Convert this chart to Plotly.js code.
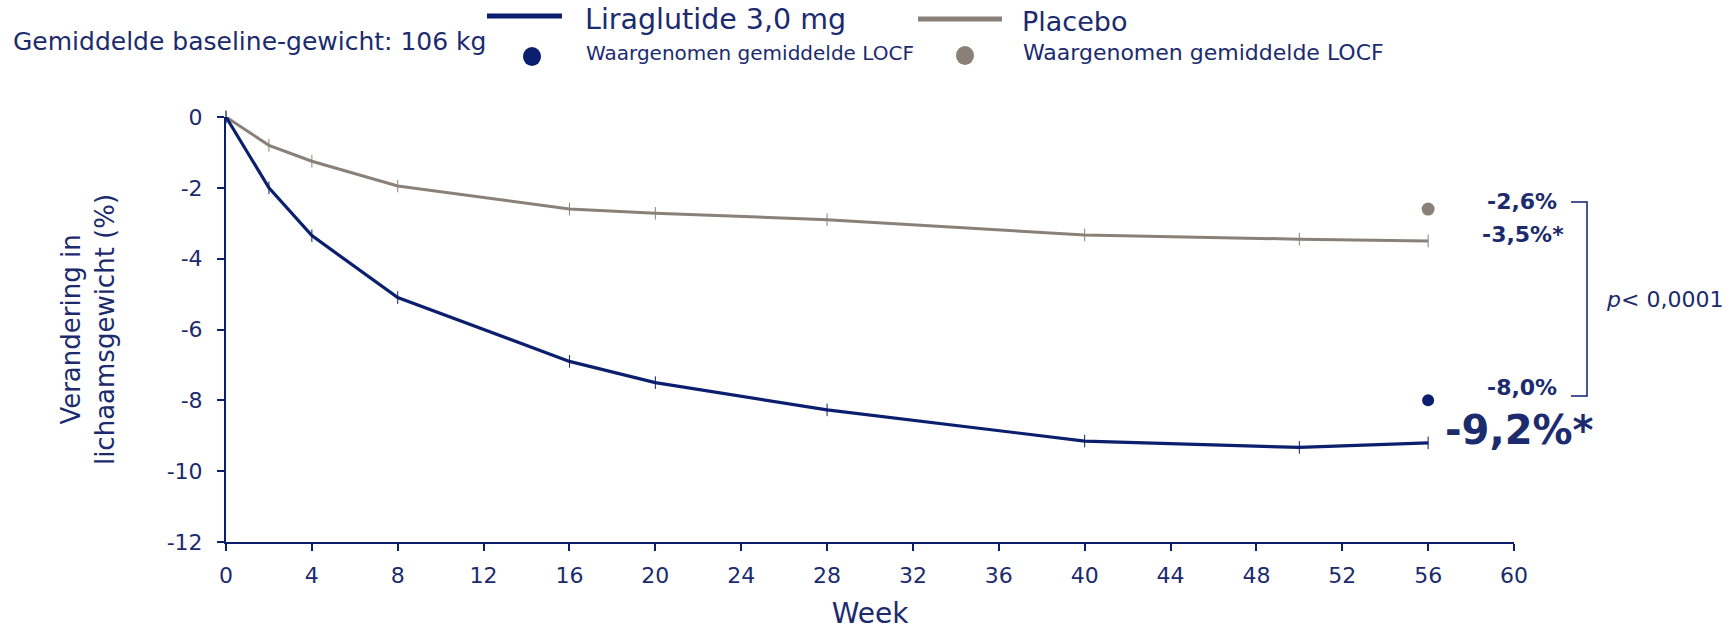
<!DOCTYPE html>
<html>
<head>
<meta charset="utf-8">
<script src="https://cdn.plot.ly/plotly-3.0.1.min.js"></script>
<style>html,body{margin:0;padding:0;background:#fff;}#chart{width:1734px;height:630px;}</style>
</head>
<body>
<div id="chart"></div>
<script>
// ---- data ----
const weeks = [0, 2, 4, 8, 16, 20, 28, 40, 50, 56];
const liraglutide = [0, -2.0, -3.35, -5.1, -6.9, -7.5, -8.27, -9.15, -9.33, -9.2];
const placebo = [0, -0.8, -1.25, -1.95, -2.6, -2.72, -2.9, -3.33, -3.45, -3.5];
const locfWeek = [56];
const liraLocf = [-8.0];
const placeboLocf = [-2.6];
const xTicks = [0, 4, 8, 12, 16, 20, 24, 28, 32, 36, 40, 44, 48, 52, 56, 60];
const yTicks = [0, -2, -4, -6, -8, -10, -12];

const NAVY = '#0c1f6e';
const TEXT = '#1b2b6e';
const GREY = '#8a8078';
const FONT = 'DejaVu Sans, Verdana, sans-serif';

// pixel -> paper helpers (plot area 226..1514 x, 117..542 y)
const L = 226, R = 1514, T = 117, B = 542;
const px = v => (v - L) / (R - L);
const py = v => (B - v) / (B - T);

const traces = [
  {x: weeks, y: placebo, type: 'scatter', mode: 'lines+markers', cliponaxis: false,
   line: {color: GREY, width: 3},
   marker: {symbol: 'line-ns-open', size: 9, color: GREY, line: {color: GREY, width: 1}},
   showlegend: false, hoverinfo: 'x+y'},
  {x: weeks, y: liraglutide, type: 'scatter', mode: 'lines+markers', cliponaxis: false,
   line: {color: NAVY, width: 3.2},
   marker: {symbol: 'line-ns-open', size: 9, color: NAVY, line: {color: NAVY, width: 1}},
   showlegend: false, hoverinfo: 'x+y'},
  {x: locfWeek, y: placeboLocf, type: 'scatter', mode: 'markers', cliponaxis: false,
   marker: {size: 13, color: GREY}, showlegend: false},
  {x: locfWeek, y: liraLocf, type: 'scatter', mode: 'markers', cliponaxis: false,
   marker: {size: 12, color: NAVY}, showlegend: false}
];

const shapes = [
  // legend samples
  {type: 'line', xref: 'paper', yref: 'paper', x0: px(487), x1: px(562), y0: py(16), y1: py(16), line: {color: NAVY, width: 5}},
  {type: 'circle', xref: 'paper', yref: 'paper', x0: px(523), x1: px(541), y0: py(47), y1: py(66), fillcolor: NAVY, line: {width: 0}},
  {type: 'line', xref: 'paper', yref: 'paper', x0: px(918), x1: px(1002), y0: py(19), y1: py(19), line: {color: GREY, width: 5}},
  {type: 'circle', xref: 'paper', yref: 'paper', x0: px(956), x1: px(974), y0: py(46), y1: py(65), fillcolor: GREY, line: {width: 0}},
  // bracket
  {type: 'path', xref: 'paper', yref: 'paper',
   path: `M ${px(1571)} ${py(202)} L ${px(1587)} ${py(202)} L ${px(1587)} ${py(396)} L ${px(1571)} ${py(396)}`,
   line: {color: NAVY, width: 1.5}}
];

const ann = (x, y, text, size, opts = {}) => Object.assign({
  xref: 'paper', yref: 'paper', x: px(x), y: py(y), text: text, showarrow: false,
  xanchor: 'left', yanchor: 'middle', borderpad: 0, font: {family: FONT, size: size, color: TEXT}
}, opts);

const annotations = [
  ann(12, 41, 'Gemiddelde baseline-gewicht: 106 kg', 25),
  ann(584, 19, 'Liraglutide 3,0 mg', 28.5),
  ann(585, 53, 'Waargenomen gemiddelde LOCF', 20),
  ann(1021, 21, 'Placebo', 27),
  ann(1022, 53, 'Waargenomen gemiddelde LOCF', 22),
  ann(1558, 201, '<b>-2,6%</b>', 22, {xanchor: 'right'}),
  ann(1565, 234, '<b>-3,5%*</b>', 22, {xanchor: 'right'}),
  ann(1558, 387, '<b>-8,0%</b>', 22, {xanchor: 'right'}),
  ann(1444, 430, '<b>-9,2%*</b>', 40),
  ann(1605, 299, '<i>p</i>< 0,0001', 22)
];

const layout = {
  width: 1734, height: 630,
  margin: {l: L, r: 1734 - R, t: T, b: 630 - B, pad: 0},
  paper_bgcolor: '#fff', plot_bgcolor: '#fff',
  font: {family: FONT, color: TEXT},
  showlegend: false,
  xaxis: {
    range: [0, 60], tickvals: xTicks, ticktext: xTicks.map(String),
    showgrid: false, zeroline: false, showline: true, linecolor: NAVY, linewidth: 2,
    ticks: 'outside', ticklen: 7, tickwidth: 2, tickcolor: NAVY, ticklabelstandoff: 6,
    tickfont: {family: FONT, size: 22, color: TEXT},
    title: {text: 'Week', font: {family: FONT, size: 28, color: TEXT}, standoff: 20}
  },
  yaxis: {
    range: [-12, 0], tickvals: yTicks, ticktext: yTicks.map(String),
    showgrid: false, zeroline: false, showline: true, linecolor: NAVY, linewidth: 2,
    ticks: 'outside', ticklen: 7, tickwidth: 2, tickcolor: NAVY, ticklabelstandoff: 10,
    tickfont: {family: FONT, size: 22, color: TEXT},
    title: {text: 'Verandering in<br>lichaamsgewicht (%)', font: {family: FONT, size: 26, color: TEXT}, standoff: 45}
  },
  shapes: shapes,
  annotations: annotations
};

Plotly.newPlot('chart', traces, layout, {displayModeBar: false, staticPlot: true});
</script>
</body>
</html>
